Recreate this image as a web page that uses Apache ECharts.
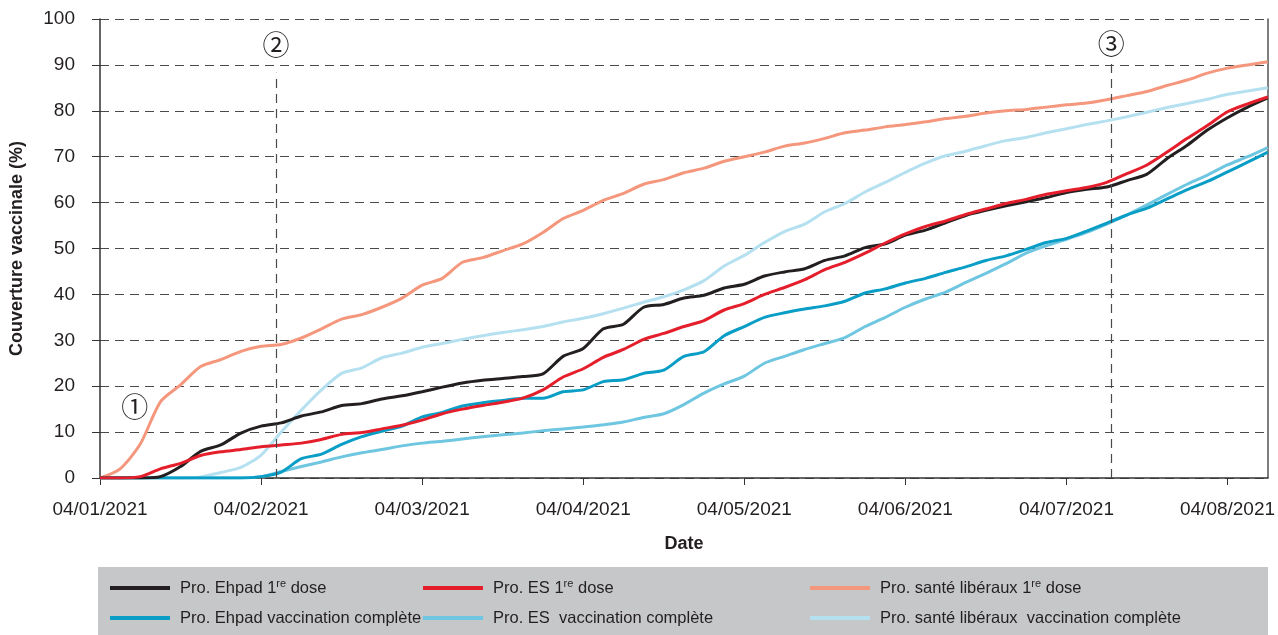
<!DOCTYPE html>
<html>
<head>
<meta charset="utf-8">
<script src="https://cdn.jsdelivr.net/npm/echarts@6/dist/echarts.min.js"></script>
<style>
html, body { margin: 0; padding: 0; background: #fff; }
#chart { width: 1278px; height: 635px; }
</style>
</head>
<body>
<div id="chart"></div>
<script>
// dates (8 points par mois, axe mensuel régulier)
const dates = [
    '04/01/2021', '08/01/2021', '12/01/2021', '16/01/2021', '19/01/2021', '23/01/2021', '27/01/2021', '31/01/2021',
    '04/02/2021', '08/02/2021', '11/02/2021', '15/02/2021', '18/02/2021', '22/02/2021', '25/02/2021', '01/03/2021',
    '04/03/2021', '08/03/2021', '12/03/2021', '16/03/2021', '19/03/2021', '23/03/2021', '27/03/2021', '31/03/2021',
    '04/04/2021', '08/04/2021', '12/04/2021', '15/04/2021', '19/04/2021', '23/04/2021', '27/04/2021', '30/04/2021',
    '04/05/2021', '08/05/2021', '12/05/2021', '16/05/2021', '19/05/2021', '23/05/2021', '27/05/2021', '31/05/2021',
    '04/06/2021', '08/06/2021', '12/06/2021', '15/06/2021', '19/06/2021', '23/06/2021', '27/06/2021', '30/06/2021',
    '04/07/2021', '08/07/2021', '12/07/2021', '16/07/2021', '19/07/2021', '23/07/2021', '27/07/2021', '31/07/2021',
    '04/08/2021', '08/08/2021', '12/08/2021'
];

// couverture vaccinale (%)
const ehpadDose1 = [0, 0, 0, 0.3, 2.5, 5.8, 7.2, 9.8, 11.3, 12, 13.5, 14.4, 15.8, 16.2, 17.2, 17.9,
    18.8, 19.8, 20.7, 21.3, 21.7, 22.1, 22.7, 26.5, 28.2, 32.5, 33.5, 37.2, 37.8, 39.2, 39.8, 41.4,
    42.2, 44, 44.9, 45.6, 47.4, 48.4, 50.2, 51, 52.9, 54, 55.6, 57.2, 58.3, 59.3, 60.2, 61.1,
    62.2, 62.9, 63.4, 64.8, 66.2, 69.6, 72.5, 75.8, 78.5, 80.8, 82.8];
const esDose1 = [0, 0, 0.3, 2, 3.2, 4.9, 5.7, 6.2, 6.8, 7.2, 7.6, 8.4, 9.5, 9.9, 10.7, 11.5,
    12.6, 14, 15, 15.8, 16.5, 17.4, 19.2, 22, 23.8, 26.3, 28, 30.2, 31.5, 33, 34.3, 36.6,
    38, 40, 41.5, 43.2, 45.4, 47, 49, 51.2, 53.2, 54.8, 56, 57.4, 58.6, 59.8, 60.7, 61.8,
    62.6, 63.3, 64.4, 66.3, 68.2, 71, 74, 76.8, 79.8, 81.5, 83];
const libDose1 = [0, 2, 7.4, 16.6, 20.3, 24.3, 25.8, 27.6, 28.7, 29.1, 30.5, 32.5, 34.6, 35.6, 37.2, 39.2,
    42, 43.5, 47, 48, 49.5, 51, 53.5, 56.5, 58.3, 60.5, 62, 64, 65, 66.5, 67.5, 69,
    70, 71, 72.3, 73, 74, 75.2, 75.8, 76.5, 77, 77.6, 78.3, 78.8, 79.5, 80, 80.3, 80.8,
    81.3, 81.7, 82.4, 83.3, 84.2, 85.5, 86.7, 88.2, 89.3, 90, 90.7];
const ehpadComplete = [0, 0, 0, 0, 0, 0, 0, 0, 0.3, 1.3, 4.2, 5.2, 7.3, 9, 10.2, 11.3,
    13.3, 14.3, 15.7, 16.4, 16.9, 17.4, 17.4, 18.8, 19.2, 21, 21.4, 22.8, 23.5, 26.5, 27.5, 31,
    33, 35, 36, 36.8, 37.5, 38.5, 40.3, 41.2, 42.5, 43.5, 44.8, 46, 47.4, 48.4, 49.8, 51.3,
    52.2, 53.8, 55.5, 57.3, 58.8, 60.8, 62.8, 64.6, 66.7, 68.8, 71];
const esComplete = [0, 0, 0, 0, 0, 0, 0, 0, 0.3, 1.4, 2.5, 3.5, 4.6, 5.5, 6.2, 7,
    7.6, 8, 8.5, 9, 9.4, 9.8, 10.3, 10.7, 11.1, 11.6, 12.2, 13.2, 14, 16, 18.5, 20.5,
    22.2, 25, 26.5, 28, 29.3, 30.6, 33, 35, 37.2, 39, 40.5, 42.6, 44.6, 46.7, 49, 50.6,
    52, 53.5, 55.3, 57.3, 59.5, 61.8, 64, 66, 68.2, 70, 72];
const libComplete = [0, 0, 0, 0, 0, 0.2, 1.2, 2.3, 5, 10, 14.8, 19.2, 22.8, 24, 26.2, 27.2,
    28.5, 29.3, 30.2, 31, 31.7, 32.3, 33, 34, 34.8, 35.8, 37, 38.3, 39.5, 41, 43, 46.2,
    48.5, 51.3, 53.7, 55.3, 58, 59.8, 62.3, 64.4, 66.6, 68.6, 70.2, 71.2, 72.4, 73.5, 74.2, 75.2,
    76.1, 77, 77.8, 78.7, 79.7, 80.7, 81.6, 82.5, 83.6, 84.3, 85];

// repères ① ② ③ (position en pas de l'axe des dates)
const markers = [
    { name: '①', x: 1.72, y: 15.5, lineTop: null },
    { name: '②', x: 8.74, y: 94.3, lineTop: 88.3 },
    { name: '③', x: 50.22, y: 94.6, lineTop: 90.4 }
];

const FONT = "'Liberation Sans', Arial, sans-serif";
const TXT = '#231f20';

let seriesDefs = [
    { name: 'Pro. santé libéraux 1re dose', data: libDose1, color: '#f4977c' },
    { name: 'Pro. santé libéraux  vaccination complète', data: libComplete, color: '#b4e0f0' },
    { name: 'Pro. ES  vaccination complète', data: esComplete, color: '#6ec6e0' },
    { name: 'Pro. Ehpad vaccination complète', data: ehpadComplete, color: '#0a9ec6' },
    { name: 'Pro. Ehpad 1re dose', data: ehpadDose1, color: '#231f20' },
    { name: 'Pro. ES 1re dose', data: esDose1, color: '#e41e2b' }
];

let chart = echarts.init(document.getElementById('chart'));

function legendCol(left, names) { // une colonne de légende = 2 lignes
    return {
        orient: 'vertical',
        left: left,
        top: 578,
        padding: 0,
        icon: 'rect',
        itemWidth: 60,
        itemHeight: 4,
        itemGap: 10,
        data: names,
        formatter: function (n) {
            return n.replace('1re', '1{sup|re}');
        },
        textStyle: {
            fontFamily: FONT,
            fontSize: 16.5,
            lineHeight: 20,
            color: TXT,
            padding: [0, 0, 0, 5],
            rich: {
                sup: { fontFamily: FONT, fontSize: 11, color: TXT, verticalAlign: 'top', lineHeight: 12 }
            }
        }
    };
}

let dashed = { color: '#4a4a4a', width: 1.2, type: [9, 6] };

let option = {
    animation: false,
    grid: { left: 98, right: 10, top: 19, bottom: 157 },
    graphic: [{
        type: 'rect',
        left: 98, top: 567,
        shape: { width: 1170, height: 68 },
        style: { fill: '#c6c7c9' },
        z: -10
    }],
    legend: [
        legendCol(110, ['Pro. Ehpad 1re dose', 'Pro. Ehpad vaccination complète']),
        legendCol(423, ['Pro. ES 1re dose', 'Pro. ES  vaccination complète']),
        legendCol(810, ['Pro. santé libéraux 1re dose', 'Pro. santé libéraux  vaccination complète'])
    ],
    xAxis: [{
        type: 'category',
        data: dates,
        boundaryGap: false,
        name: 'Date',
        nameLocation: 'middle',
        nameGap: 57,
        nameTextStyle: { fontFamily: FONT, fontSize: 18, fontWeight: 'bold', color: TXT },
        axisLine: { lineStyle: { color: '#333', width: 1.5 } },
        axisTick: { interval: 7, length: 7, lineStyle: { color: '#333' } },
        axisLabel: { interval: 7, margin: 22, fontFamily: FONT, fontSize: 19, color: TXT },
        splitLine: { show: false }
    }, {
        type: 'value', min: 0, max: dates.length - 1, show: false
    }],
    yAxis: [{
        type: 'value',
        min: 0, max: 100, interval: 10,
        name: 'Couverture vaccinale (%)',
        nameLocation: 'middle',
        nameGap: 74,
        nameTextStyle: { fontFamily: FONT, fontSize: 18, fontWeight: 'bold', color: TXT },
        axisLine: { show: true, lineStyle: { color: '#333', width: 1.5 } },
        axisTick: { show: true, length: 8, lineStyle: { color: '#333' } },
        axisLabel: { margin: 25, fontFamily: FONT, fontSize: 19, color: TXT },
        splitLine: { lineStyle: dashed }
    }, {
        type: 'value', min: 0, max: 100, position: 'right',
        axisLine: { show: true, lineStyle: { color: '#555', width: 1.5 } },
        axisTick: { show: false }, axisLabel: { show: false }, splitLine: { show: false }
    }],
    series: seriesDefs.map(s => ({
        name: s.name,
        type: 'line',
        data: s.data,
        showSymbol: false,
        smooth: 0.25,
        color: s.color,
        lineStyle: { width: 3, color: s.color }
    })).concat([{
        name: 'reperes',
        type: 'line',
        xAxisIndex: 1,
        data: [],
        silent: true,
        markLine: {
            silent: true,
            symbol: 'none',
            label: { show: false },
            lineStyle: dashed,
            data: markers.filter(m => m.lineTop !== null).map(m => [
                { coord: [m.x, 0] }, { coord: [m.x, m.lineTop] }
            ])
        },
        markPoint: {
            silent: true,
            symbolSize: 1,
            itemStyle: { color: 'rgba(0,0,0,0)' },
            label: {
                show: true, position: 'inside', formatter: '{b}',
                fontFamily: "'Noto Sans CJK JP', 'DejaVu Sans', sans-serif",
                fontSize: 27, color: TXT
            },
            data: markers.map(m => ({ name: m.name, coord: [m.x, m.y] }))
        }
    }])
};

chart.setOption(option);
</script>
</body>
</html>
